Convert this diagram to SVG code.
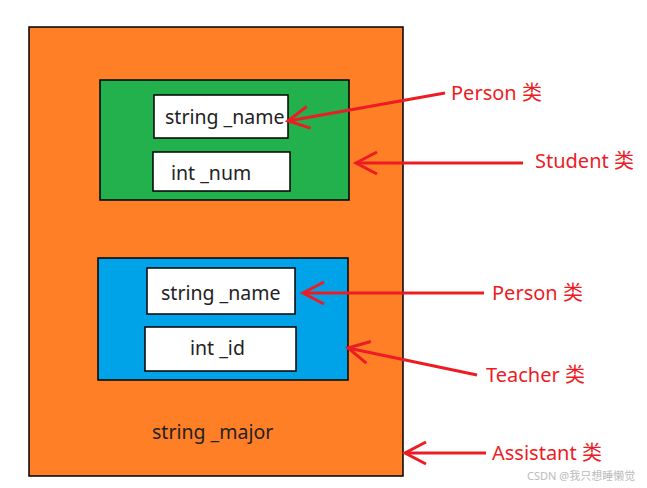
<svg xmlns="http://www.w3.org/2000/svg" width="647" height="488" viewBox="0 0 647 488">
<style>
.box{stroke:#000;stroke-width:1.5}
.white{fill:#fff;stroke:#000;stroke-width:1.5}
.t{font-family:"Noto Sans","Open Sans","Liberation Sans",sans-serif;font-size:19.5px;fill:#222}
.lbl{font-family:"Noto Sans","Noto Sans CJK SC","Liberation Sans",sans-serif;font-size:20px;fill:#ED1C24}
.arr{stroke:#ED1C24;stroke-width:3;fill:none;marker-end:url(#head)}
.wm{font-family:"Noto Sans","Noto Sans CJK SC",sans-serif;font-size:11px;fill:#bbb}
</style>
<defs>
<marker id="head" markerUnits="userSpaceOnUse" viewBox="-24 -13 26 26" refX="0" refY="0" markerWidth="26" markerHeight="26" orient="auto" overflow="visible">
<path d="M -21 -11 L 0 0 L -21 11" fill="none" stroke="#ED1C24" stroke-width="3"/>
</marker>
</defs>
<rect width="647" height="488" fill="#fff"/>
<g id="assistant">
<rect class="box" x="29" y="27" width="374" height="449" fill="#FE7F26"/>
<text class="t" x="152" y="439">string _major</text>
</g>
<g id="student">
<rect class="box" x="100" y="80" width="249" height="120" fill="#22B14C"/>
<g id="student-name"><rect class="white" x="154" y="95" width="134" height="43"/><text class="t" x="165" y="124">string _name</text></g>
<g id="student-num"><rect class="white" x="153" y="152" width="137" height="39"/><text class="t" x="171" y="180">int _num</text></g>
</g>
<g id="teacher">
<rect class="box" x="98" y="258" width="250" height="122" fill="#00A2E8"/>
<g id="teacher-name"><rect class="white" x="147" y="268" width="148" height="46"/><text class="t" x="161" y="300">string _name</text></g>
<g id="teacher-id"><rect class="white" x="145" y="327" width="151" height="44"/><text class="t" x="190" y="355">int _id</text></g>
</g>
<g id="labels">
<text class="lbl" x="451" y="100">Person 类</text>
<text class="lbl" x="535" y="168">Student 类</text>
<text class="lbl" x="492" y="300">Person 类</text>
<text class="lbl" x="486" y="382">Teacher 类</text>
<text class="lbl" x="492" y="460">Assistant 类</text>
</g>
<g id="connectors">
<line class="arr" x1="445" y1="93" x2="288" y2="121"/>
<line class="arr" x1="523" y1="163" x2="356" y2="163"/>
<line class="arr" x1="484" y1="293" x2="303" y2="293"/>
<line class="arr" x1="477" y1="375" x2="348" y2="348"/>
<line class="arr" x1="486" y1="453" x2="405" y2="453"/>
</g>
<text class="wm" x="527" y="480">CSDN @我只想睡懒觉</text>
</svg>
